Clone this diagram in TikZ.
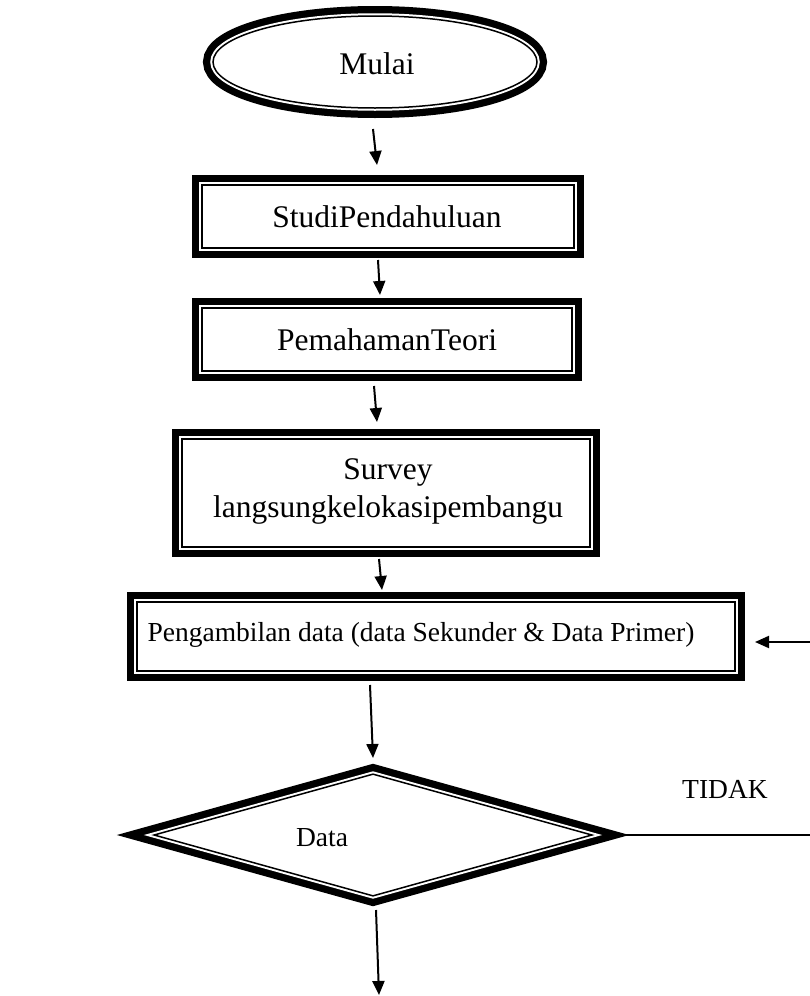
\documentclass[tikz,border=0pt]{standalone}
\usepackage{fontspec}
\setmainfont{Liberation Serif}
\usetikzlibrary{shapes.geometric,arrows.meta}
\begin{document}
\begin{tikzpicture}[x=1pt,y=-1pt,
  dbl/.style={preaction={draw,line width=20pt},
              preaction={draw=white,line width=5.5pt},
              fill=white, draw, line width=1.5pt, inner sep=0pt, outer sep=10pt},
  lbl/.style={font=\fontsize{31.5}{38}\selectfont, inner sep=0pt, align=center},
  smalllbl/.style={font=\fontsize{27.5}{33}\selectfont, inner sep=0pt},
  arr/.style={line width=2pt, -{Triangle[width=12pt,length=14pt]}},
  plain/.style={line width=1.5pt}
]
\useasboundingbox (0,0) rectangle (810,996);
% shapes
\node[dbl, ellipse, minimum width=324pt, minimum height=92pt] (start) at (375,62) {};
\node[dbl, rectangle, minimum width=372pt, minimum height=63pt] (box1) at (388,216.5) {};
\node[dbl, rectangle, minimum width=370pt, minimum height=63pt] (box2) at (387,339.5) {};
\node[dbl, rectangle, minimum width=408pt, minimum height=108pt] (box3) at (386,493) {};
\node[dbl, rectangle, minimum width=598pt, minimum height=69pt] (box4) at (436,636.5) {};
\node[dbl, diamond, minimum width=446pt, minimum height=130pt] (dia) at (373,835) {};
% texts
\node[lbl] (t0) at (377,64) {Mulai};
\node[lbl] (t1) at (387,217) {StudiPendahuluan};
\node[lbl] (t2) at (387,340) {PemahamanTeori};
\node[lbl] (t3) at (388,491) {Survey\\langsungkelokasipembangu};
\node[smalllbl] (t4) at (421,635) {Pengambilan data (data Sekunder \& Data Primer)};
\node[smalllbl] (t5) at (322,838) {Data};
\node[smalllbl] (t6) at (725,789) {TIDAK};
% free ends
\coordinate (rin) at (810,642);
\coordinate (rout) at (810,835);
\coordinate (fin) at (379,995);
% connectors
\draw[arr] ([shift={(-2,11)}]start.south) -- ([shift={(-11,-10)}]box1.north);
\draw[arr] ([shift={(-10,2)}]box1.south) -- ([shift={(-7,-3)}]box2.north);
\draw[arr] ([shift={(-13,5)}]box2.south) -- ([shift={(-9,-7)}]box3.north);
\draw[arr] ([shift={(-7,2)}]box3.south) -- ([shift={(-54,-2)}]box4.north);
\draw[arr] ([shift={(-66,4)}]box4.south) -- ([shift={(0,-2)}]dia.north);
\draw[arr] ([shift={(3,0)}]dia.south) -- (fin);
\draw[arr] (rin) -- ([shift={(10,5.5)}]box4.east);
\draw[plain] (dia.east) -- (dia.east -| rout);
\end{tikzpicture}
\end{document}
